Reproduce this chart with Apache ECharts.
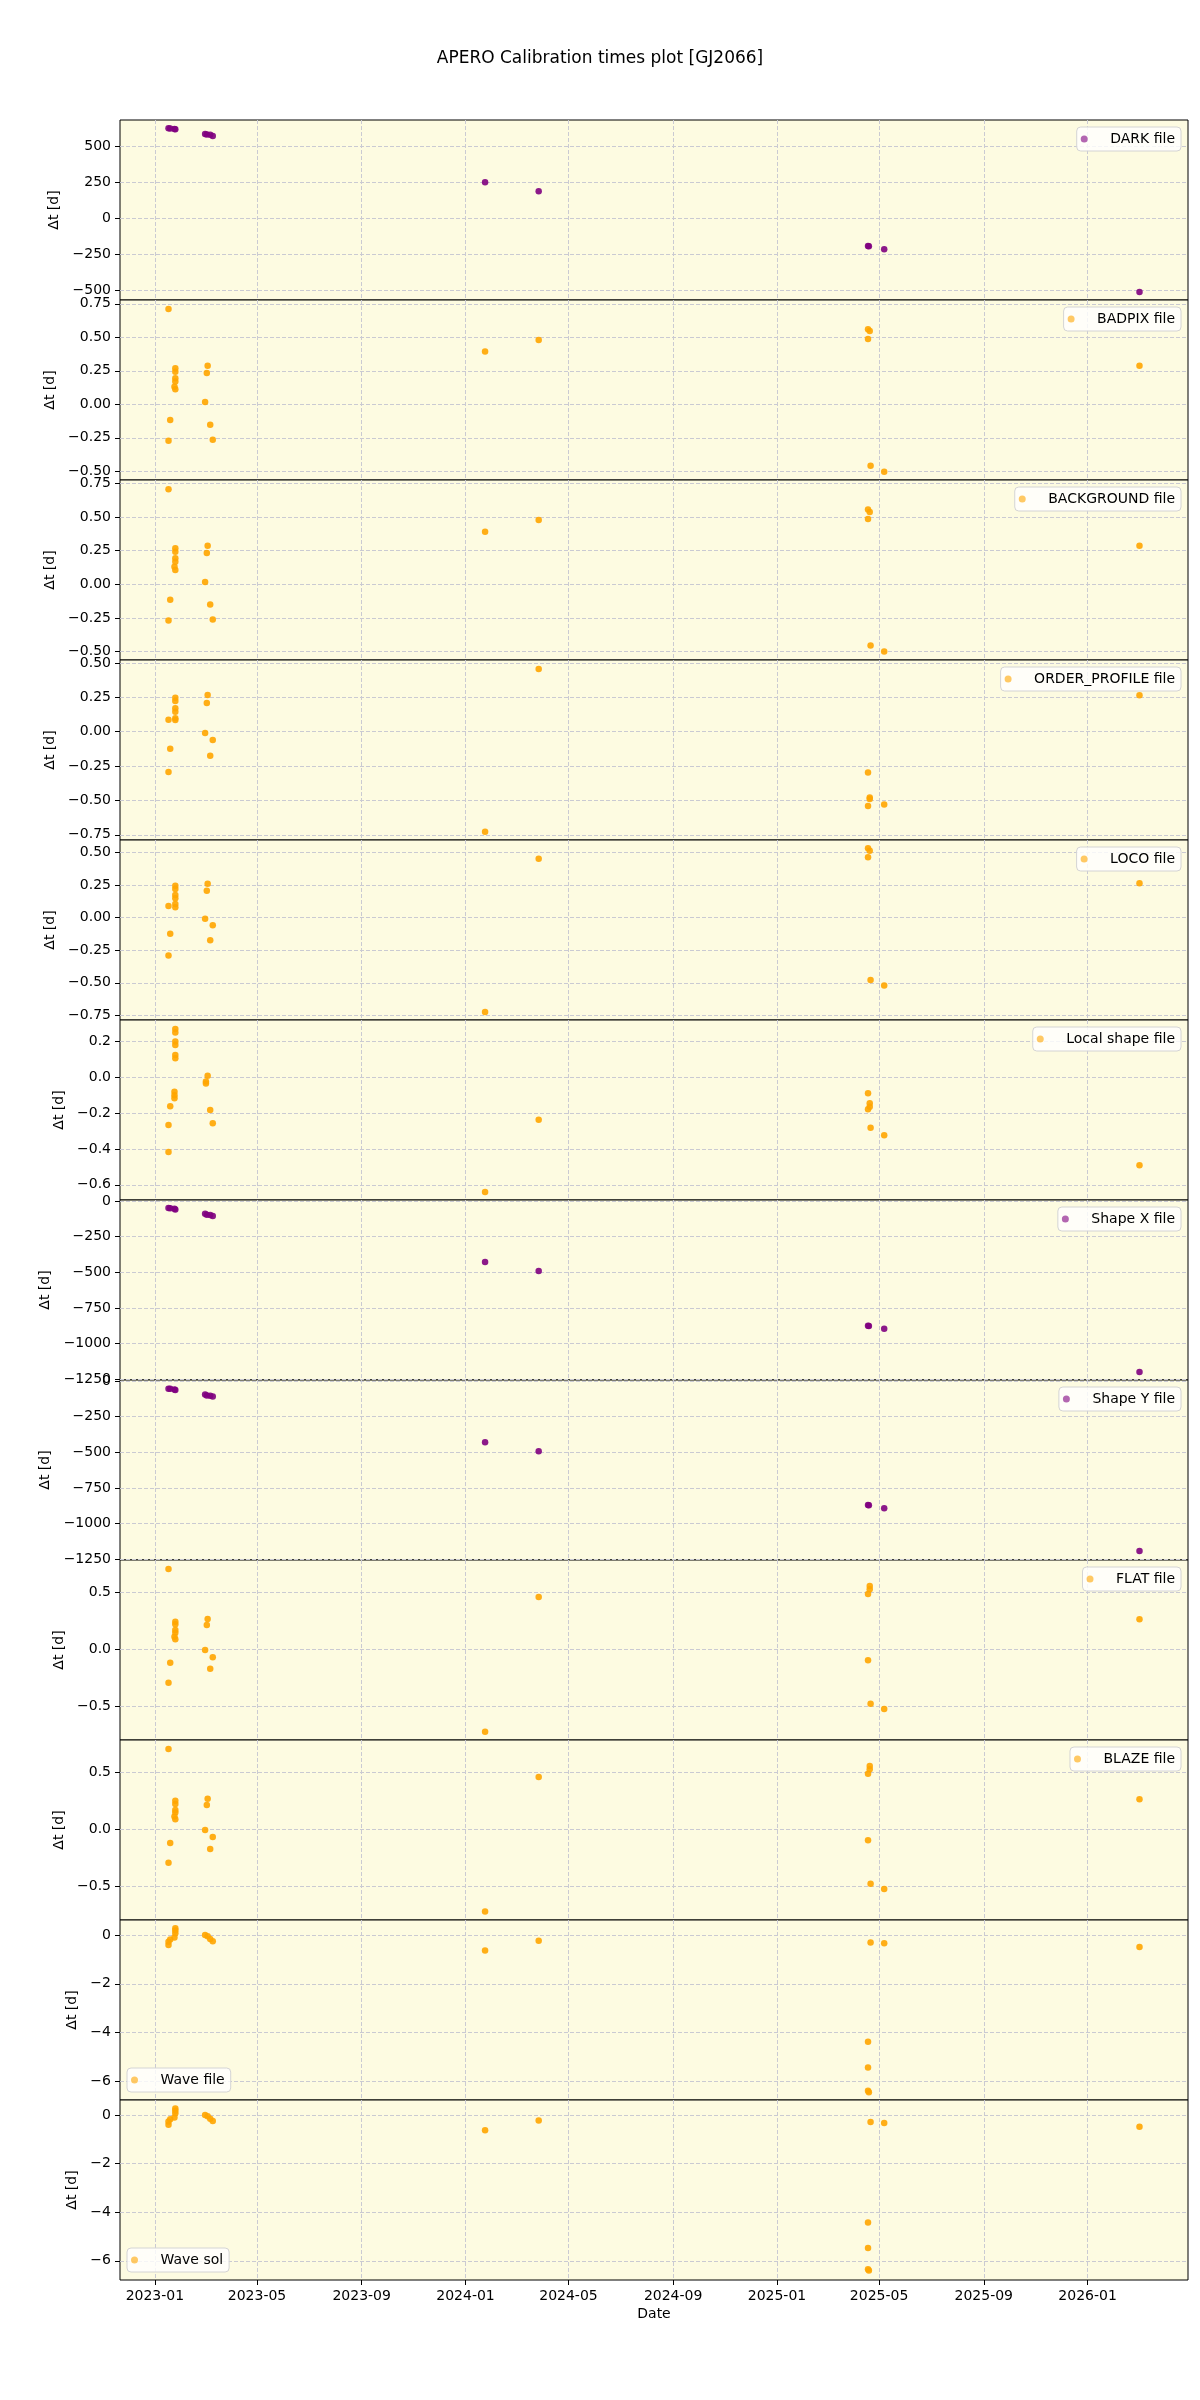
<!DOCTYPE html>
<html>
<head>
<meta charset="utf-8">
<title>APERO Calibration times plot [GJ2066]</title>
<script src="https://cdn.jsdelivr.net/npm/echarts@6/dist/echarts.min.js"></script>
<style>
  html, body { margin: 0; padding: 0; background: #fff; }
  #chart { width: 1200px; height: 2400px; }
</style>
</head>
<body>
<div id="chart"></div>
<script>
// panel labels, top to bottom
const PANEL_NAMES = [
  'DARK file', 'BADPIX file', 'BACKGROUND file', 'ORDER_PROFILE file', 'LOCO file',
  'Local shape file', 'Shape X file', 'Shape Y file', 'FLAT file', 'BLAZE file',
  'Wave file', 'Wave sol'
]

// [date, Δt in days]
const DARK_FILE = [
  ['2023-01-17', 625], ['2023-01-19', 624], ['2023-01-24', 621], ['2023-01-25', 618],
  ['2023-03-01', 585], ['2023-03-03', 582], ['2023-03-07', 580], ['2023-03-10', 572],
  ['2024-01-24', 250], ['2024-03-27', 188],
  ['2025-04-18', -192], ['2025-04-19', -193], ['2025-05-07', -215],
  ['2026-03-03', -512]
]
const BADPIX_FILE = [
  ['2023-01-17', 0.711], ['2023-01-17', -0.272], ['2023-01-19', -0.117],
  ['2023-01-25', 0.269], ['2023-01-25', 0.243], ['2023-01-25', 0.194], ['2023-01-25', 0.169],
  ['2023-01-24', 0.131], ['2023-01-25', 0.112],
  ['2023-03-01', 0.017], ['2023-03-03', 0.234], ['2023-03-04', 0.288], ['2023-03-07', -0.152], ['2023-03-10', -0.264],
  ['2024-01-24', 0.393], ['2024-03-27', 0.480],
  ['2025-04-18', 0.560], ['2025-04-20', 0.547], ['2025-04-18', 0.487], ['2025-04-21', -0.458], ['2025-05-07', -0.503],
  ['2026-03-03', 0.288]
]
const BACKGROUND_FILE = [
  ['2023-01-17', 0.706], ['2023-01-17', -0.270], ['2023-01-19', -0.116],
  ['2023-01-25', 0.267], ['2023-01-25', 0.242], ['2023-01-25', 0.193], ['2023-01-25', 0.168],
  ['2023-01-24', 0.130], ['2023-01-25', 0.106],
  ['2023-03-01', 0.017], ['2023-03-03', 0.232], ['2023-03-04', 0.286], ['2023-03-07', -0.151], ['2023-03-10', -0.262],
  ['2024-01-24', 0.390], ['2024-03-27', 0.477],
  ['2025-04-18', 0.556], ['2025-04-20', 0.538], ['2025-04-18', 0.486], ['2025-04-21', -0.455], ['2025-05-07', -0.500],
  ['2026-03-03', 0.286]
]
const ORDER_PROFILE_FILE = [
  ['2023-01-17', 0.087], ['2023-01-19', -0.124], ['2023-01-17', -0.293],
  ['2023-01-25', 0.247], ['2023-01-25', 0.223], ['2023-01-25', 0.170], ['2023-01-25', 0.146],
  ['2023-01-25', 0.098], ['2023-01-25', 0.085],
  ['2023-03-01', -0.010], ['2023-03-03', 0.209], ['2023-03-04', 0.267], ['2023-03-07', -0.175], ['2023-03-10', -0.060],
  ['2024-01-24', -0.728], ['2024-03-27', 0.456],
  ['2025-04-18', -0.296], ['2025-04-20', -0.478], ['2025-04-20', -0.490], ['2025-04-18', -0.541], ['2025-05-07', -0.529],
  ['2026-03-03', 0.265]
]
const LOCO_FILE = [
  ['2023-01-17', 0.090], ['2023-01-19', -0.123], ['2023-01-17', -0.291],
  ['2023-01-25', 0.245], ['2023-01-25', 0.220], ['2023-01-25', 0.174], ['2023-01-25', 0.149],
  ['2023-01-25', 0.105], ['2023-01-25', 0.080],
  ['2023-03-01', -0.008], ['2023-03-03', 0.207], ['2023-03-04', 0.261], ['2023-03-07', -0.173], ['2023-03-10', -0.058],
  ['2024-01-24', -0.723], ['2024-03-27', 0.452],
  ['2025-04-18', 0.532], ['2025-04-20', 0.514], ['2025-04-18', 0.463], ['2025-04-21', -0.478], ['2025-05-07', -0.521],
  ['2026-03-03', 0.264]
]
const LOCAL_SHAPE_FILE = [
  ['2023-01-25', 0.270], ['2023-01-25', 0.250], ['2023-01-25', 0.200], ['2023-01-25', 0.180],
  ['2023-01-25', 0.125], ['2023-01-25', 0.106],
  ['2023-01-24', -0.080], ['2023-01-24', -0.100], ['2023-01-24', -0.117],
  ['2023-01-19', -0.162], ['2023-01-17', -0.266], ['2023-01-17', -0.417],
  ['2023-03-04', 0.009], ['2023-03-02', -0.024], ['2023-03-02', -0.035], ['2023-03-07', -0.182], ['2023-03-10', -0.257],
  ['2024-01-24', -0.640], ['2024-03-27', -0.237],
  ['2025-04-18', -0.089], ['2025-04-20', -0.145], ['2025-04-20', -0.164], ['2025-04-18', -0.179],
  ['2025-04-21', -0.281], ['2025-05-07', -0.324],
  ['2026-03-03', -0.491]
]
const SHAPE_X_FILE = [
  ['2023-01-17', -49], ['2023-01-19', -50], ['2023-01-24', -54], ['2023-01-25', -59],
  ['2023-03-01', -89], ['2023-03-03', -96], ['2023-03-07', -98], ['2023-03-10', -105],
  ['2024-01-24', -427], ['2024-03-27', -490],
  ['2025-04-18', -875], ['2025-04-19', -876], ['2025-05-07', -896],
  ['2026-03-03', -1199]
]
const SHAPE_Y_FILE = [
  ['2023-01-17', -53], ['2023-01-19', -53], ['2023-01-24', -58], ['2023-01-25', -62],
  ['2023-03-01', -93], ['2023-03-03', -100], ['2023-03-07', -103], ['2023-03-10', -108],
  ['2024-01-24', -429], ['2024-03-27', -492],
  ['2025-04-18', -870], ['2025-04-19', -871], ['2025-05-07', -893],
  ['2026-03-03', -1193]
]
const FLAT_FILE = [
  ['2023-01-17', 0.709], ['2023-01-19', -0.118], ['2023-01-17', -0.295],
  ['2023-01-25', 0.244], ['2023-01-25', 0.221], ['2023-01-25', 0.170], ['2023-01-25', 0.147],
  ['2023-01-24', 0.111], ['2023-01-25', 0.088],
  ['2023-03-01', -0.006], ['2023-03-03', 0.214], ['2023-03-04', 0.267], ['2023-03-07', -0.171], ['2023-03-10', -0.071],
  ['2024-01-24', -0.727], ['2024-03-27', 0.462],
  ['2025-04-20', 0.559], ['2025-04-20', 0.530], ['2025-04-18', 0.488], ['2025-04-18', -0.097],
  ['2025-04-21', -0.480], ['2025-05-07', -0.527],
  ['2026-03-03', 0.265]
]
const BLAZE_FILE = [
  ['2023-01-17', 0.704], ['2023-01-19', -0.120], ['2023-01-17', -0.293],
  ['2023-01-25', 0.251], ['2023-01-25', 0.222], ['2023-01-25', 0.169], ['2023-01-25', 0.146],
  ['2023-01-24', 0.111], ['2023-01-25', 0.088],
  ['2023-03-01', -0.006], ['2023-03-03', 0.213], ['2023-03-04', 0.268], ['2023-03-07', -0.173], ['2023-03-10', -0.068],
  ['2024-01-24', -0.722], ['2024-03-27', 0.459],
  ['2025-04-20', 0.555], ['2025-04-20', 0.526], ['2025-04-18', 0.488], ['2025-04-18', -0.096],
  ['2025-04-21', -0.477], ['2025-05-07', -0.524],
  ['2026-03-03', 0.263]
]
const WAVE_FILE = [
  ['2023-01-17', -0.41], ['2023-01-17', -0.27], ['2023-01-19', -0.18],
  ['2023-01-25', 0.28], ['2023-01-25', 0.19], ['2023-01-25', 0.08], ['2023-01-24', -0.10],
  ['2023-03-01', 0.00], ['2023-03-04', -0.05], ['2023-03-07', -0.16], ['2023-03-10', -0.25],
  ['2024-01-24', -0.63], ['2024-03-27', -0.23],
  ['2025-04-18', -4.38], ['2025-04-18', -5.44], ['2025-04-18', -6.39], ['2025-04-19', -6.45],
  ['2025-04-21', -0.30], ['2025-05-07', -0.33],
  ['2026-03-03', -0.49]
]
const WAVE_SOL = [
  ['2023-01-17', -0.40], ['2023-01-17', -0.26], ['2023-01-19', -0.17],
  ['2023-01-25', 0.27], ['2023-01-25', 0.18], ['2023-01-25', 0.07], ['2023-01-24', -0.10],
  ['2023-03-01', 0.00], ['2023-03-04', -0.05], ['2023-03-07', -0.15], ['2023-03-10', -0.24],
  ['2024-01-24', -0.63], ['2024-03-27', -0.22],
  ['2025-04-18', -4.42], ['2025-04-18', -5.47], ['2025-04-18', -6.35], ['2025-04-19', -6.40],
  ['2025-04-21', -0.29], ['2025-05-07', -0.33],
  ['2026-03-03', -0.48]
]
const PANEL_DATA = [
  DARK_FILE, BADPIX_FILE, BACKGROUND_FILE, ORDER_PROFILE_FILE, LOCO_FILE,
  LOCAL_SHAPE_FILE, SHAPE_X_FILE, SHAPE_Y_FILE, FLAT_FILE, BLAZE_FILE,
  WAVE_FILE, WAVE_SOL
]

// axis ranges and ticks
const X_RANGE = ['2022-11-21', '2026-04-29']
const X_TICKS = [
  '2023-01-01', '2023-05-01', '2023-09-01', '2024-01-01', '2024-05-01',
  '2024-09-01', '2025-01-01', '2025-05-01', '2025-09-01', '2026-01-01'
]
const Y_RANGES = [
  [-567, 683], [-0.565, 0.778], [-0.563, 0.775], [-0.788, 0.522], [-0.785, 0.596],
  [-0.685, 0.320], [-1256, 8], [-1256, 8], [-0.800, 0.788], [-0.796, 0.783],
  [-6.77, 0.62], [-6.79, 0.62]
]
const Y_TICKS = [
  [-500, -250, 0, 250, 500],
  [-0.5, -0.25, 0, 0.25, 0.5, 0.75],
  [-0.5, -0.25, 0, 0.25, 0.5, 0.75],
  [-0.75, -0.5, -0.25, 0, 0.25, 0.5],
  [-0.75, -0.5, -0.25, 0, 0.25, 0.5],
  [-0.6, -0.4, -0.2, 0, 0.2],
  [-1250, -1000, -750, -500, -250, 0],
  [-1250, -1000, -750, -500, -250, 0],
  [-0.5, 0, 0.5],
  [-0.5, 0, 0.5],
  [-6, -4, -2, 0],
  [-6, -4, -2, 0]
]
const Y_DECIMALS = [0, 2, 2, 2, 2, 1, 0, 0, 1, 1, 0, 0]

const PURPLE = '#800080'
const ORANGE = '#ffa500'
const PANEL_COLORS = [PURPLE, ORANGE, ORANGE, ORANGE, ORANGE, ORANGE, PURPLE, PURPLE, ORANGE, ORANGE, ORANGE, ORANGE]
// distance from axis to the rotated y label (follows tick label width)
const NAME_GAPS = [53, 58, 58, 58, 58, 49, 62, 62, 49, 49, 36, 36]

const FONT = 'DejaVu Sans'
const GRID_LEFT = 120
const GRID_WIDTH = 1068
const GRID_TOP = 120
const PANEL_H = 180

function toTs(s) {
  const p = s.split('-').map(Number)
  return Date.UTC(p[0], p[1] - 1, p[2])
}

function fmtNum(v, dec) {
  const s = Math.abs(v).toFixed(dec)
  return v < 0 ? '\u2212' + s : s
}

function fmtMonth(v) {
  const d = new Date(v)
  return d.getUTCFullYear() + '-' + String(d.getUTCMonth() + 1).padStart(2, '0')
}

const gridLine = { color: '#cacad2', width: 1, type: [4, 2] }
const xTickVals = X_TICKS.map(toTs)
const last = PANEL_NAMES.length - 1

const grids = []
const xAxes = []
const yAxes = []
const series = []
const legends = []

PANEL_NAMES.forEach((name, i) => {
  const top = GRID_TOP + PANEL_H * i
  grids.push({
    left: GRID_LEFT,
    width: GRID_WIDTH,
    top,
    height: PANEL_H,
    show: true,
    backgroundColor: '#fdfbe1',
    borderColor: '#000',
    borderWidth: 1
  })
  // plain value axis over epoch ms, month ticks placed explicitly
  xAxes.push({
    type: 'value',
    gridIndex: i,
    position: 'bottom',
    min: toTs(X_RANGE[0]),
    max: toTs(X_RANGE[1]),
    axisLine: { show: false, onZero: false },
    axisTick: {
      show: i === last,
      length: 5,
      customValues: xTickVals,
      lineStyle: { color: '#000' }
    },
    axisLabel: {
      show: i === last,
      customValues: xTickVals,
      formatter: fmtMonth,
      color: '#000',
      fontSize: 14,
      fontFamily: FONT,
      margin: 9
    },
    splitLine: { show: true, lineStyle: gridLine },
    name: i === last ? 'Date' : '',
    nameLocation: 'middle',
    nameGap: 27,
    nameTextStyle: { color: '#000', fontSize: 14, fontFamily: FONT }
  })
  const dec = Y_DECIMALS[i]
  yAxes.push({
    type: 'value',
    gridIndex: i,
    min: Y_RANGES[i][0],
    max: Y_RANGES[i][1],
    axisLine: { show: false, onZero: false },
    axisTick: {
      show: true,
      length: 5,
      customValues: Y_TICKS[i],
      lineStyle: { color: '#000' }
    },
    axisLabel: {
      customValues: Y_TICKS[i],
      formatter: (v) => fmtNum(v, dec),
      color: '#000',
      fontSize: 14,
      fontFamily: FONT,
      margin: 9
    },
    splitLine: { show: true, lineStyle: gridLine },
    name: '\u0394t [d]',
    nameLocation: 'middle',
    nameRotate: 90,
    nameGap: NAME_GAPS[i],
    nameTextStyle: { color: '#000', fontSize: 14, fontFamily: FONT }
  })
  series.push({
    type: 'scatter',
    name,
    xAxisIndex: i,
    yAxisIndex: i,
    symbol: 'circle',
    symbolSize: 6.5,
    itemStyle: { color: PANEL_COLORS[i], opacity: 0.9 },
    data: PANEL_DATA[i].map((r) => [toTs(r[0]), r[1]])
  })
  // wave panels keep their legend in the lower left corner
  const lowerLeft = i >= 10
  const legend = {
    data: [name],
    selectedMode: false,
    icon: 'circle',
    itemWidth: 30,
    itemHeight: 7,
    backgroundColor: 'rgba(255,255,255,0.8)',
    borderColor: '#d4d4d4',
    borderWidth: 1,
    borderRadius: 4,
    padding: [5, 6, 5, 4],
    itemStyle: { opacity: 0.6 },
    textStyle: { color: '#000', fontSize: 14, fontFamily: FONT, padding: [0, 0, 0, 6] }
  }
  if (lowerLeft) {
    legend.left = GRID_LEFT + 7
    legend.top = top + PANEL_H - 32
  } else {
    legend.right = 1200 - (GRID_LEFT + GRID_WIDTH) + 7
    legend.top = top + 7
  }
  legends.push(legend)
})

const chart = echarts.init(document.getElementById('chart'), null, { renderer: 'canvas' })
chart.setOption({
  animation: false,
  backgroundColor: '#fff',
  title: {
    text: 'APERO Calibration times plot [GJ2066]',
    left: 'center',
    top: 45,
    textStyle: { color: '#000', fontSize: 17, fontWeight: 'normal', fontFamily: FONT }
  },
  legend: legends,
  grid: grids,
  xAxis: xAxes,
  yAxis: yAxes,
  series
})
</script>
</body>
</html>
